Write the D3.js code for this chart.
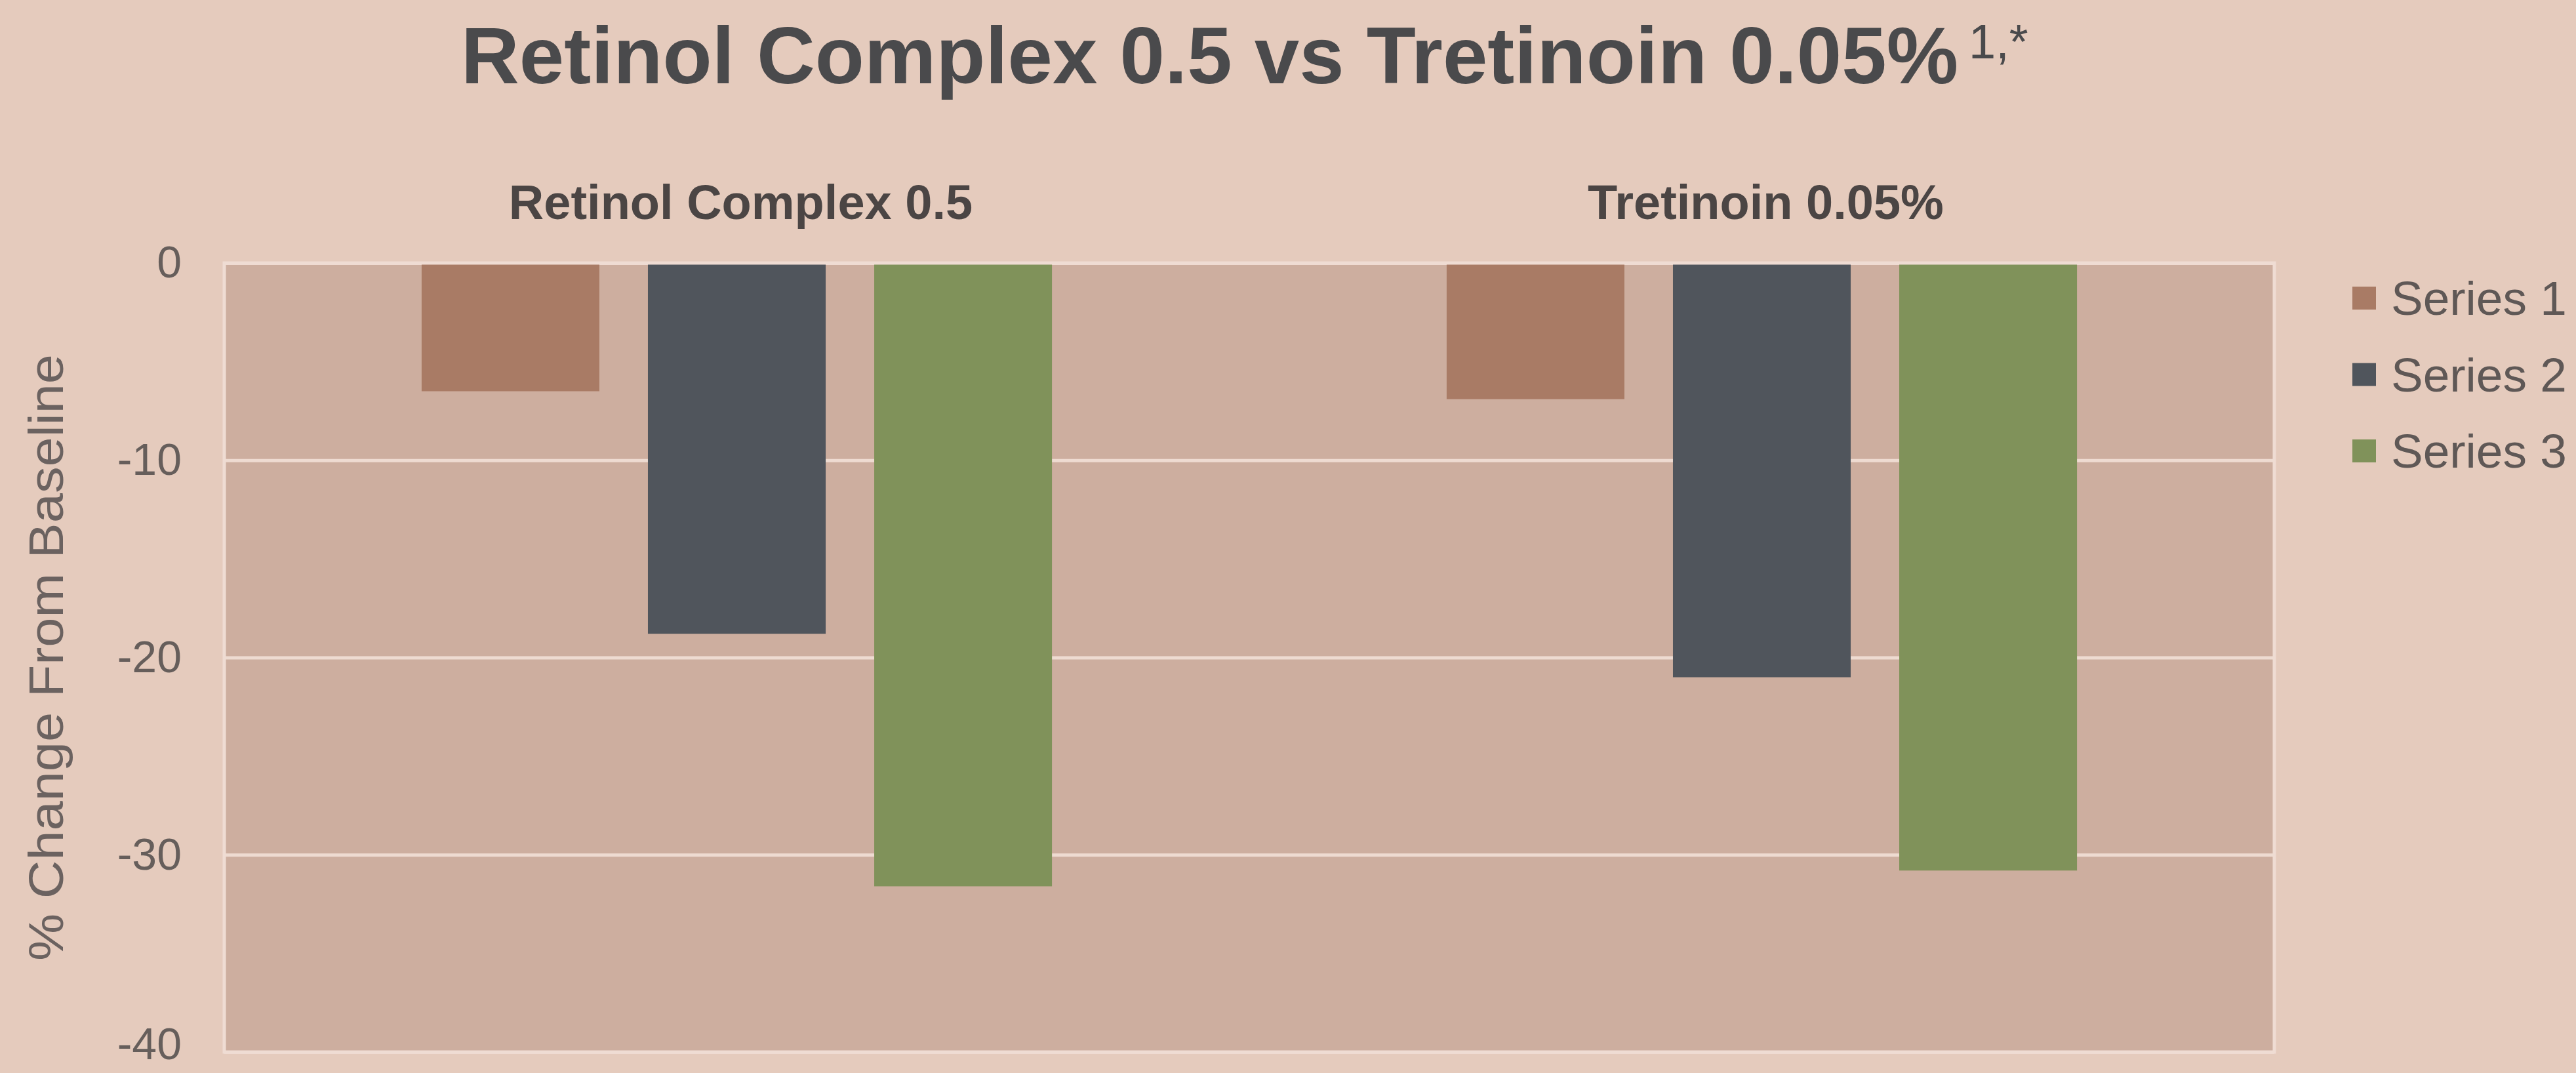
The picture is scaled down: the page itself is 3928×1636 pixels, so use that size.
<!DOCTYPE html>
<html>
<head>
<meta charset="utf-8">
<script src="https://cdn.jsdelivr.net/npm/d3@7"></script>
<style>
  html, body { margin: 0; padding: 0; background: #e5cbbd; }
  svg { display: block; font-family: "Liberation Sans", Arial, sans-serif; }
</style>
</head>
<body>
<div id="chart"></div>
<script>
// chart data
const groups = ['Retinol Complex 0.5', 'Tretinoin 0.05%'];
const seriesNames = ['Series 1', 'Series 2', 'Series 3'];
const series1 = [-6.5, -6.9];
const series2 = [-18.8, -21.0];
const series3 = [-31.6, -30.8];
const yTicks = [0, -10, -20, -30, -40];
const colors = ['#a97b65', '#50555c', '#80925a'];

const outerWidth = 3928;
const outerHeight = 1636;
const margin = { top: 401, right: 460, bottom: 32, left: 342 };
const width = outerWidth - margin.left - margin.right;
const height = outerHeight - margin.top - margin.bottom;

const rows = [];
groups.forEach((g, i) => {
  rows.push({ group: g, series: seriesNames[0], value: series1[i] });
  rows.push({ group: g, series: seriesNames[1], value: series2[i] });
  rows.push({ group: g, series: seriesNames[2], value: series3[i] });
});

const svg = d3.select('#chart')
  .append('svg')
  .attr('width', outerWidth)
  .attr('height', outerHeight);

svg.append('rect')
  .attr('width', outerWidth)
  .attr('height', outerHeight)
  .attr('fill', '#e5cbbd');

// title, superscript kept in the same text element
const title = svg.append('text')
  .attr('x', 703)
  .attr('y', 127)
  .style('fill', '#4a4a4c');

title.append('tspan')
  .style('font-size', '123px')
  .style('font-weight', 'bold')
  .text('Retinol Complex 0.5 vs Tretinoin 0.05%');

title.append('tspan')
  .attr('dx', 16)
  .attr('dy', -38)
  .style('font-size', '74px')
  .text('1,*');

const g = svg.append('g')
  .attr('transform', 'translate(' + margin.left + ',' + margin.top + ')');

const x0 = d3.scaleBand()
  .domain(groups)
  .range([0, width])
  .padding(0);

const x1 = d3.scaleBand()
  .domain(seriesNames)
  .range([0, x0.bandwidth()])
  .paddingInner(0.2145)
  .paddingOuter(0.872);

const y = d3.scaleLinear()
  .domain([-40, 0])
  .range([height, 0]);

const color = d3.scaleOrdinal()
  .domain(seriesNames)
  .range(colors);

// plot area
g.append('rect')
  .attr('width', width)
  .attr('height', height)
  .attr('fill', '#cdae9f');

// gridlines + tick labels (plain hyphen like the original)
const yAxis = d3.axisLeft(y)
  .tickValues(yTicks)
  .tickSize(-width)
  .tickPadding(65)
  .tickFormat(d => String(d));

const gY = g.append('g')
  .attr('class', 'y axis')
  .call(yAxis);

gY.select('.domain').remove();
gY.selectAll('.tick line')
  .attr('stroke', '#eedbd1')
  .attr('stroke-width', 5);
gY.selectAll('.tick text')
  .style('font-size', '68px')
  .style('fill', '#665e5b')
  .style('font-family', '"Liberation Sans", Arial, sans-serif');
// bottom label sits right at the page edge, nudge it up a touch
gY.selectAll('.tick text')
  .filter(d => d === -40)
  .attr('dy', '0.16em');

// bars
g.selectAll('.bar')
  .data(rows)
  .enter()
  .append('rect')
  .attr('class', 'bar')
  .attr('x', d => x0(d.group) + x1(d.series))
  .attr('width', x1.bandwidth())
  .attr('y', d => y(Math.max(0, d.value)))
  .attr('height', d => Math.abs(y(d.value) - y(0)))
  .attr('fill', d => color(d.series));

// plot border
g.append('rect')
  .attr('width', width)
  .attr('height', height)
  .attr('fill', 'none')
  .attr('stroke', '#efdcd3')
  .attr('stroke-width', 5);

// category labels above plot
g.selectAll('.cat-label')
  .data(groups)
  .enter()
  .append('text')
  .attr('class', 'cat-label')
  .attr('x', d => x0(d) + x0.bandwidth() / 2 + 6)
  .attr('y', -67)
  .attr('text-anchor', 'middle')
  .style('font-size', '74px')
  .style('font-weight', 'bold')
  .style('fill', '#4b4544')
  .text(d => d);

// y axis title
svg.append('text')
  .attr('transform', 'translate(96,' + (margin.top + height / 2) + ') rotate(-90)')
  .attr('text-anchor', 'middle')
  .attr('textLength', 925)
  .attr('lengthAdjust', 'spacingAndGlyphs')
  .style('font-size', '74px')
  .style('fill', '#6b6260')
  .text('% Change From Baseline');

// legend
const legend = svg.selectAll('.legend')
  .data(seriesNames)
  .enter()
  .append('g')
  .attr('class', 'legend')
  .attr('transform', (d, i) => 'translate(3587,' + (437 + i * 116.5) + ')');

legend.append('rect')
  .attr('width', 36)
  .attr('height', 35)
  .attr('fill', d => color(d));

legend.append('text')
  .attr('x', 59)
  .attr('y', 17)
  .attr('dy', '0.36em')
  .style('font-size', '73px')
  .style('fill', '#5f5856')
  .text(d => d);
</script>
</body>
</html>
